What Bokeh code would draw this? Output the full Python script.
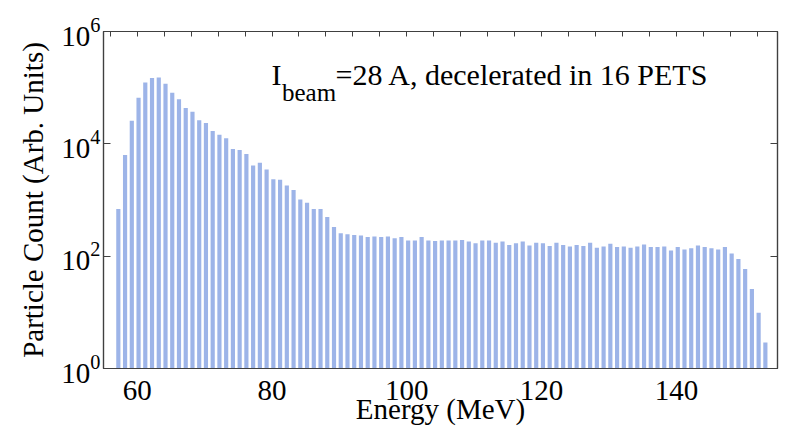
from bokeh.plotting import figure
from bokeh.models import Range1d, FixedTicker, LinearAxis, LogAxis, Label, CustomJSTickFormatter
from bokeh.embed import file_html
from bokeh.resources import INLINE

# ---- data ----
energy = [57.2, 58.2, 59.2, 60.2, 61.2, 62.2, 63.2, 64.2, 65.2, 66.2,
          67.2, 68.2, 69.2, 70.2, 71.2, 72.2, 73.2, 74.2, 75.2, 76.2,
          77.2, 78.2, 79.2, 80.2, 81.2, 82.2, 83.2, 84.2, 85.2, 86.2,
          87.2, 88.2, 89.2, 90.2, 91.2, 92.2, 93.2, 94.2, 95.2, 96.2,
          97.2, 98.2, 99.2, 100.2, 101.2, 102.2, 103.2, 104.2, 105.2, 106.2,
          107.2, 108.2, 109.2, 110.2, 111.2, 112.2, 113.2, 114.2, 115.2, 116.2,
          117.2, 118.2, 119.2, 120.2, 121.2, 122.2, 123.2, 124.2, 125.2, 126.2,
          127.2, 128.2, 129.2, 130.2, 131.2, 132.2, 133.2, 134.2, 135.2, 136.2,
          137.2, 138.2, 139.2, 140.2, 141.2, 142.2, 143.2, 144.2, 145.2, 146.2,
          147.2, 148.2, 149.2, 150.2, 151.2, 152.2, 153.2]
counts = [690, 6300, 25700, 66000, 123000, 148000, 151000, 117000, 81000, 62000,
          43600, 37200, 26300, 23400, 17000, 14500, 12600, 8100, 7800, 6600,
          4100, 4600, 3500, 2340, 2290, 1820, 1510, 1020, 890, 690,
          690, 500, 330, 257, 245, 237, 234, 219, 224, 219,
          224, 209, 219, 191, 191, 219, 191, 186, 191, 191,
          191, 195, 182, 170, 191, 191, 174, 182, 158, 170,
          182, 155, 174, 170, 151, 174, 158, 148, 158, 151,
          174, 141, 148, 166, 145, 148, 141, 148, 162, 145,
          145, 148, 126, 145, 132, 138, 155, 145, 138, 132,
          145, 112, 89, 59, 26, 9.8, 2.9]
x_tick_labels = [60, 80, 100, 120, 140]
x_tick_marks = [56, 60, 64, 68, 72, 76, 80, 84, 88, 92, 96, 100, 104, 108,
                112, 116, 120, 124, 128, 132, 136, 140, 144, 148, 152]
y_ticks = [1, 1e2, 1e4, 1e6]

FONT = "Liberation Serif"
AX = "#404040"
BAR = "#9DB4E8"

p = figure(width=791, height=435,
           x_range=Range1d(55, 155), y_range=Range1d(1, 1e6),
           y_axis_type="log", output_backend="svg", toolbar_location=None,
           min_border_left=103, min_border_right=14,
           min_border_top=31, min_border_bottom=67)
p.xgrid.visible = False
p.ygrid.visible = False
p.outline_line_color = AX
p.outline_line_width = 1.2

p.vbar(x=energy, top=counts, bottom=1, width=0.62,
       fill_color=BAR, line_color=None)


def style(ax, ticks, tick_in, blank=True):
    ax.ticker = FixedTicker(ticks=ticks, minor_ticks=[])
    if blank:
        ax.formatter = CustomJSTickFormatter(code="return '';")
    ax.major_tick_in = tick_in
    ax.major_tick_out = 0
    ax.minor_tick_in = 0
    ax.minor_tick_out = 0
    ax.axis_line_color = AX
    ax.axis_line_width = 1.2
    ax.major_tick_line_color = AX
    ax.major_tick_line_width = 1
    ax.major_label_text_font = FONT
    ax.major_label_text_font_size = "29px"
    ax.major_label_text_color = "black"
    ax.axis_label_text_font = FONT
    ax.axis_label_text_font_size = "29px"
    ax.axis_label_text_font_style = "normal"
    ax.axis_label_text_color = "black"


# bottom axis: labels every 20 MeV (its inward ticks are hidden behind the bars)
xa = p.xaxis[0]
style(xa, x_tick_labels, 0, blank=False)
xa.major_label_standoff = 12
xa.axis_label = "Energy (MeV)"
xa.axis_label_standoff = -10

# left axis: decades 10^0 .. 10^6
ya = p.yaxis[0]
style(ya, y_ticks, 7, blank=False)
ya.major_label_standoff = 3
ya.axis_label = "Particle Count (Arb. Units)"
ya.axis_label_standoff = 9

top_ax = LinearAxis()
style(top_ax, x_tick_marks, 5)
top_ax.major_label_standoff = 0
p.add_layout(top_ax, "above")
right_ax = LogAxis()
style(right_ax, y_ticks, 7)
right_ax.major_label_standoff = 0
p.add_layout(right_ax, "right")

# annotation: I_beam=28 A, decelerated in 16 PETS
p.add_layout(Label(x=80, y=1e5, x_offset=-0.5, y_offset=12.8, text="I",
                   text_align="left", text_baseline="middle",
                   text_font=FONT, text_font_size="30px", text_color="black"))
p.add_layout(Label(x=80, y=1e5, x_offset=10, y_offset=-4.4, text="beam",
                   text_align="left", text_baseline="middle",
                   text_font=FONT, text_font_size="25px", text_color="black"))
p.add_layout(Label(x=80, y=1e5, x_offset=63.5, y_offset=12.8,
                   text="=28 A, decelerated in 16 PETS",
                   text_align="left", text_baseline="middle",
                   text_font=FONT, text_font_size="30px", text_color="black"))

open("out.html", "w", encoding="utf-8").write(file_html(p, INLINE))
